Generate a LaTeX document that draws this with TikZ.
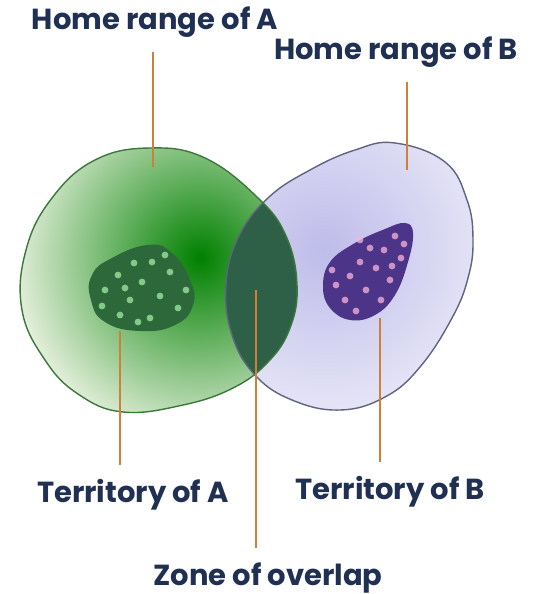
\documentclass[tikz,border=0pt]{standalone}
\usepackage{fontspec}
\setmainfont{Poppins}
\usepackage{xcolor}
\usepackage{tikz}
\usetikzlibrary{positioning}

\definecolor{inkblue}{RGB}{32,48,82}
\definecolor{leadorange}{RGB}{205,128,55}
\definecolor{rangeAline}{RGB}{60,120,60}
\definecolor{rangeBline}{RGB}{95,100,130}
\definecolor{overlapgreen}{RGB}{46,96,72}
\definecolor{terrAgreen}{RGB}{44,104,58}
\definecolor{terrBpurple}{RGB}{76,52,136}

\begin{document}
\begin{tikzpicture}[x=0.02cm,y=-0.02cm,
    tag/.style={font=\bfseries\fontsize{16.5}{18}\selectfont, text=inkblue, inner sep=0pt},
    leader/.style={leadorange, line width=0.9pt, shorten <=8pt}]
    \useasboundingbox (0,0) rectangle (535,594);

    % Outlines of the ranges
    \def\rangeA{plot[smooth cycle, tension=0.7] coordinates {(150,148) (205,158) (258,198) (286,236) (297,285) (290,328) (268,362) (233,388) (183,405) (123,412) (78,394) (45,360) (22,310) (26,250) (52,198) (95,160)}}
    \def\rangeB{plot[smooth cycle, tension=0.7] coordinates {(395,143) (445,162) (467,200) (473,240) (468,278) (452,318) (420,367) (385,397) (340,410) (292,400) (255,375) (232,335) (226,285) (238,238) (268,198) (310,170) (355,150)}}

    % Home range of B
    \begin{scope}
        \clip \rangeB;
        \fill[white] (200,120) rectangle (490,420);
        \shade[inner color={rgb,255:red,190;green,188;blue,234}, outer color={rgb,255:red,246;green,246;blue,252}] (325,250) circle (230);
    \end{scope}

    % Home range of A
    \begin{scope}
        \clip \rangeA;
        \fill[white] (0,120) rectangle (310,420);
        \shade[inner color={rgb,255:red,0;green,128;blue,0}, outer color={rgb,255:red,250;green,250;blue,240}] (200,258) circle (205);
    \end{scope}

    % Zone of overlap
    \begin{scope}
        \clip \rangeA;
        \fill[overlapgreen] \rangeB;
    \end{scope}

    \draw[rangeBline, line width=0.8pt] \rangeB;
    \draw[rangeAline, line width=0.8pt] \rangeA;

    % Territory of A
    \fill[terrAgreen] plot[smooth cycle, tension=0.8] coordinates {(148,245) (172,253) (190,280) (193,305) (175,325) (140,331) (105,322) (91,300) (92,275) (112,258)};
    \foreach \p in {(105,290),(118,275),(130,300),(142,282),(152,262),(160,296),(170,272),(178,308),(150,318),(120,315),(186,290),(134,263),(102,306),(165,255),(138,322),(125,288)} {
        \fill[green!30!white, opacity=0.65] \p circle (3.4);
    }

    % Territory of B
    \fill[terrBpurple] plot[smooth cycle, tension=0.7] coordinates {(405,223) (413,233) (408,262) (395,295) (375,315) (350,320) (330,308) (323,287) (330,262) (355,243) (385,229)};
    \foreach \p in {(395,236),(384,250),(370,248),(401,258),(360,262),(376,268),(350,276),(390,280),(336,285),(366,290),(345,300),(381,300),(356,311),(332,270),(404,244),(360,240),(392,266)} {
        \fill[magenta!30!white, opacity=0.75] \p circle (3.4);
    }

    % Labels
    \node[tag] (homeA) at (155,22) {Home range of A};
    \node[tag] (homeB) at (396,52) {Home range of B};
    \node[tag] (terrA) at (133,495) {Territory of A};
    \node[tag] (terrB) at (390,492) {Territory of B};
    \node[tag] (zone) at (268,578) {Zone of overlap};

    % Leader lines
    \coordinate (homeAtip) at (153,167);
    \coordinate (homeBtip) at (407,170);
    \coordinate (terrAtip) at (120,331);
    \coordinate (terrBtip) at (380,318);
    \coordinate (zonetip) at (256,290);
    \draw[leader] (homeA.south -| homeAtip) -- (homeAtip);
    \draw[leader] (homeB.south -| homeBtip) -- (homeBtip);
    \draw[leader] (terrA.north -| terrAtip) -- (terrAtip);
    \draw[leader] (terrB.north -| terrBtip) -- (terrBtip);
    \draw[leader] (zone.north -| zonetip) -- (zonetip);
\end{tikzpicture}
\end{document}
